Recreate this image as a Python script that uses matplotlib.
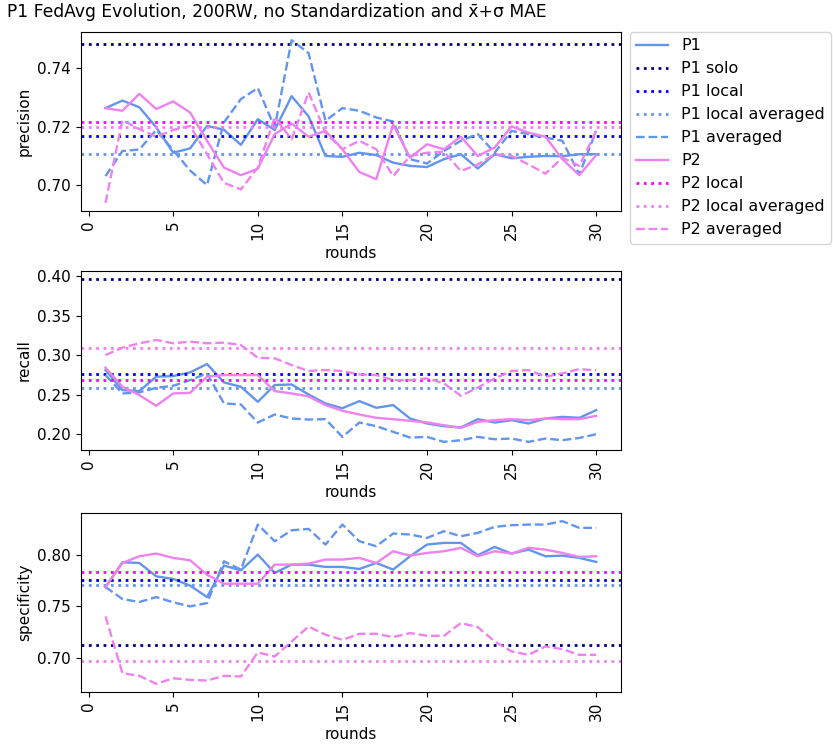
import matplotlib
matplotlib.use("Agg")
import matplotlib.pyplot as plt
import numpy as np

rounds = list(range(1, 31))

# precision
p1_prec = [0.7264, 0.7290, 0.7267, 0.7198, 0.7111, 0.7126, 0.7203, 0.7190, 0.7138, 0.7226,
           0.7189, 0.7305, 0.7236, 0.7100, 0.7097, 0.7111, 0.7103, 0.7077, 0.7066, 0.7062,
           0.7089, 0.7106, 0.7057, 0.7106, 0.7092, 0.7097, 0.7100, 0.7099, 0.7106, 0.7106]
p1_prec_avg = [0.7031, 0.7117, 0.7122, 0.7189, 0.7120, 0.7050, 0.7000, 0.7215, 0.7295, 0.7333,
               0.7198, 0.7497, 0.7453, 0.7221, 0.7264, 0.7255, 0.7232, 0.7218, 0.7089, 0.7074,
               0.7117, 0.7152, 0.7175, 0.7111, 0.7186, 0.7175, 0.7163, 0.7152, 0.7037, 0.7186]
p2_prec = [0.7264, 0.7255, 0.7313, 0.7261, 0.7287, 0.7249, 0.7152, 0.7060, 0.7034, 0.7056,
           0.7175, 0.7211, 0.7166, 0.7186, 0.7123, 0.7045, 0.7020, 0.7207, 0.7094, 0.7140,
           0.7123, 0.7166, 0.7100, 0.7129, 0.7201, 0.7180, 0.7166, 0.7089, 0.7034, 0.7103]
p2_prec_avg = [0.6939, 0.7223, 0.7192, 0.7166, 0.7189, 0.7203, 0.7106, 0.7008, 0.6985, 0.7060,
               0.7232, 0.7157, 0.7318, 0.7180, 0.7123, 0.7152, 0.7123, 0.7031, 0.7100, 0.7111,
               0.7115, 0.7048, 0.7071, 0.7106, 0.7100, 0.7071, 0.7039, 0.7094, 0.7066, 0.7186]

# recall
p1_rec = [0.2814, 0.2559, 0.2547, 0.2729, 0.2737, 0.2784, 0.2890, 0.2657, 0.2602, 0.2411,
          0.2623, 0.2631, 0.2504, 0.2390, 0.2330, 0.2420, 0.2335, 0.2369, 0.2199, 0.2136,
          0.2102, 0.2085, 0.2191, 0.2148, 0.2178, 0.2136, 0.2199, 0.2220, 0.2208, 0.2305]
p1_rec_avg = [0.2750, 0.2517, 0.2530, 0.2589, 0.2614, 0.2686, 0.2771, 0.2390, 0.2377, 0.2148,
              0.2250, 0.2199, 0.2186, 0.2191, 0.1966, 0.2148, 0.2102, 0.2030, 0.1958, 0.1966,
              0.1903, 0.1924, 0.1966, 0.1936, 0.1945, 0.1903, 0.1945, 0.1924, 0.1953, 0.2000]
p2_rec = [0.2843, 0.2602, 0.2496, 0.2360, 0.2517, 0.2525, 0.2729, 0.2750, 0.2750, 0.2750,
          0.2547, 0.2517, 0.2480, 0.2369, 0.2297, 0.2250, 0.2208, 0.2190, 0.2170, 0.2150,
          0.2114, 0.2081, 0.2157, 0.2178, 0.2191, 0.2178, 0.2199, 0.2191, 0.2191, 0.2233]
p2_rec_avg = [0.3004, 0.3097, 0.3153, 0.3195, 0.3153, 0.3174, 0.3153, 0.3161, 0.3131, 0.2970,
              0.2962, 0.2877, 0.2801, 0.2814, 0.2801, 0.2758, 0.2750, 0.2686, 0.2686, 0.2708,
              0.2644, 0.2487, 0.2589, 0.2708, 0.2801, 0.2814, 0.2729, 0.2771, 0.2826, 0.2809]

# specificity
p1_spec = [0.7687, 0.7926, 0.7919, 0.7790, 0.7765, 0.7700, 0.7590, 0.7894, 0.7848, 0.8000,
           0.7823, 0.7903, 0.7903, 0.7881, 0.7881, 0.7861, 0.7919, 0.7855, 0.7984, 0.8097,
           0.8113, 0.8113, 0.7994, 0.8074, 0.8010, 0.8048, 0.7984, 0.7990, 0.7968, 0.7929]
p1_spec_avg = [0.7687, 0.7571, 0.7542, 0.7590, 0.7539, 0.7500, 0.7532, 0.7935, 0.7855, 0.8290,
               0.8129, 0.8235, 0.8248, 0.8097, 0.8290, 0.8129, 0.8081, 0.8203, 0.8194, 0.8161,
               0.8226, 0.8177, 0.8210, 0.8268, 0.8284, 0.8290, 0.8290, 0.8323, 0.8258, 0.8258]
p2_spec = [0.7687, 0.7919, 0.7984, 0.8010, 0.7968, 0.7945, 0.7806, 0.7719, 0.7719, 0.7719,
           0.7903, 0.7903, 0.7913, 0.7952, 0.7952, 0.7968, 0.7919, 0.8032, 0.7990, 0.8016,
           0.8032, 0.8065, 0.7984, 0.8032, 0.8010, 0.8065, 0.8048, 0.8016, 0.7977, 0.7984]
p2_spec_avg = [0.7403, 0.6855, 0.6829, 0.6752, 0.6806, 0.6790, 0.6784, 0.6829, 0.6823, 0.7055,
               0.7016, 0.7161, 0.7306, 0.7226, 0.7177, 0.7235, 0.7235, 0.7203, 0.7242, 0.7216,
               0.7216, 0.7339, 0.7300, 0.7161, 0.7065, 0.7032, 0.7113, 0.7087, 0.7032, 0.7032]

# reference levels: solo, P1 local, P1 local averaged, P2 local, P2 local averaged
prec_ref = [0.7485, 0.7168, 0.7108, 0.7218, 0.7201]
rec_ref = [0.3966, 0.2758, 0.2589, 0.2691, 0.3089]
spec_ref = [0.7129, 0.7758, 0.7703, 0.7832, 0.6968]

metrics = [
    ("precision", p1_prec, p1_prec_avg, p2_prec, p2_prec_avg, prec_ref, [0.70, 0.72, 0.74]),
    ("recall", p1_rec, p1_rec_avg, p2_rec, p2_rec_avg, rec_ref, [0.20, 0.25, 0.30, 0.35, 0.40]),
    ("specificity", p1_spec, p1_spec_avg, p2_spec, p2_spec_avg, spec_ref, [0.70, 0.75, 0.80]),
]

fig = plt.figure(figsize=(8.33, 7.51), dpi=100)
bottoms = [0.719, 0.4008, 0.0786]
lw = 1.7
dot_lw = 2.0

for (name, p1, p1a, p2, p2a, ref, yt), b in zip(metrics, bottoms):
    ax = fig.add_axes([0.0972, b, 0.648, 0.2383])
    ax.plot(rounds, p1, color="cornflowerblue", lw=lw, label="P1")
    ax.axhline(ref[0], color="navy", linestyle=":", lw=dot_lw, label="P1 solo")
    ax.axhline(ref[1], color="blue", linestyle=":", lw=dot_lw, label="P1 local")
    ax.axhline(ref[2], color="cornflowerblue", linestyle=":", lw=dot_lw, label="P1 local averaged")
    ax.plot(rounds, p1a, color="cornflowerblue", linestyle="--", lw=lw, label="P1 averaged")
    ax.plot(rounds, p2, color="violet", lw=lw, label="P2")
    ax.axhline(ref[3], color="magenta", linestyle=":", lw=dot_lw, label="P2 local")
    ax.axhline(ref[4], color="violet", linestyle=":", lw=dot_lw, label="P2 local averaged")
    ax.plot(rounds, p2a, color="violet", linestyle="--", lw=lw, label="P2 averaged")
    ax.set_ylabel(name, fontsize=11)
    ax.set_xlabel("rounds", fontsize=11)
    ax.set_xticks([0, 5, 10, 15, 20, 25, 30])
    ax.tick_params(axis="x", labelrotation=90)
    ax.tick_params(labelsize=11)
    ax.set_yticks(yt)
    if name == "precision":
        handles, labels = ax.get_legend_handles_labels()

fig.legend(handles, labels, loc="upper left", bbox_to_anchor=(630 / 833, 1 - 32 / 751),
           borderaxespad=0, fontsize=11.5)
fig.text(7 / 833, 1 - 12 / 751, "P1 FedAvg Evolution, 200RW, no Standardization and x\u0304+\u03c3 MAE",
         fontsize=12.3, ha="left", va="center")

fig.savefig("out.png", dpi=100)
